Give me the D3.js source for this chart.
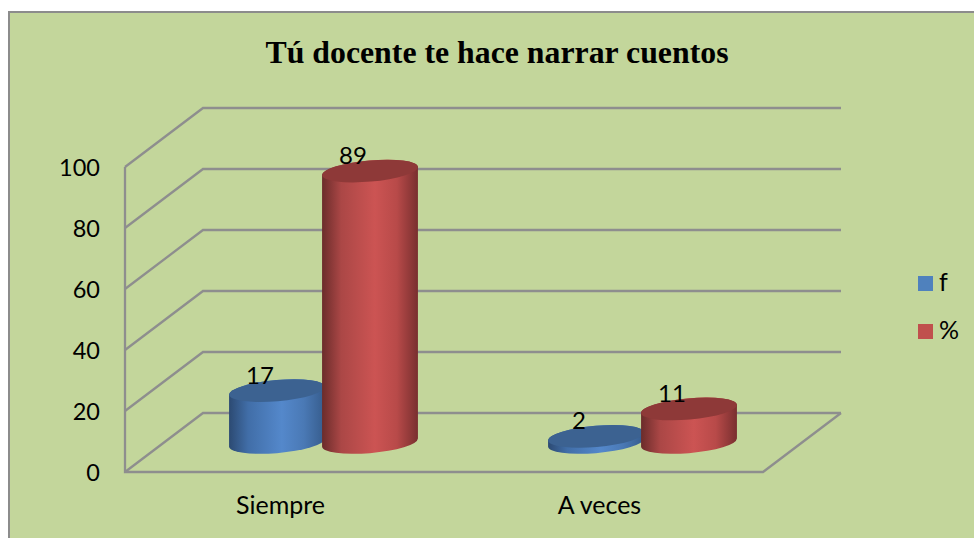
<!DOCTYPE html>
<html><head><meta charset="utf-8">
<script src="https://cdn.jsdelivr.net/npm/d3@7"></script>
<style>html,body{margin:0;padding:0;background:#fff}svg{display:block}</style>
</head><body><div id="chart"></div>
<script>
const titleText = "Tú docente te hace narrar cuentos";
const categories = ["Siempre", "A veces"];
const seriesNames = ["f", "%"];
const fValues = [17, 2];
const pctValues = [89, 11];
const yTicks = [0, 20, 40, 60, 80, 100];
const seriesColors = {
  f: {stops: ["#2c4a72", "#416ea8", "#5488cb", "#4a79b5", "#365c8c"], top: "#3c6291", swatch: "#4f81bd"},
  "%": {stops: ["#6b2c2b", "#ab4746", "#cc5453", "#b84a49", "#792f2f"], top: "#8e3938", swatch: "#c0504d"}
};

const W = 974, H = 538;
const depthX = 78, depthY = -59;
const svg = d3.select("#chart").append("svg").attr("width", W).attr("height", H)
  .style("font-family", "Lato, 'Open Sans', sans-serif");
const defs = svg.append("defs");
seriesNames.forEach((s, si) => {
  const g = defs.append("linearGradient").attr("id", "grad" + si);
  seriesColors[s].stops.forEach((c, i) => g.append("stop").attr("offset", [0, .2, .55, .78, 1][i]).attr("stop-color", c));
});

svg.append("rect").attr("x", 9).attr("y", 12).attr("width", W + 10).attr("height", H + 10)
  .attr("fill", "#c3d69b").attr("stroke", "#8c8c8c").attr("stroke-width", 2);

svg.append("text").attr("x", 497).attr("y", 63).attr("text-anchor", "middle")
  .attr("font-family", "'Liberation Serif', serif").attr("font-weight", "bold").attr("font-size", 31.8)
  .attr("fill", "#000").text(titleText);

const y = d3.scaleLinear().domain([0, 100]).range([472, 167]);
const x0 = d3.scaleBand().domain(categories).range([125, 763]);
const grey = "#8e8e8e";
const grid = svg.append("g").attr("fill", "none").attr("stroke", grey).attr("stroke-width", 2.3);
yTicks.forEach(t => {
  const py = y(t);
  grid.append("path").attr("d", d3.line()([[125, py], [125 + depthX, py + depthY], [841, py + depthY]]));
});
grid.append("path").attr("d", d3.line()([[125, y(100)], [125, y(0)], [763, y(0)], [841, y(0) + depthY]]));

svg.append("g").selectAll("text").data(yTicks).join("text")
  .attr("x", 100).attr("y", d => y(d) + 8.5).attr("text-anchor", "end")
  .attr("font-size", 23.5).attr("fill", "#000").text(d => d);
svg.append("g").selectAll("text").data(categories).join("text")
  .attr("x", d => x0(d) + x0.bandwidth() / 2 - 4).attr("y", 514).attr("text-anchor", "middle")
  .attr("font-size", 25).attr("fill", "#000").text(d => d);

const x1 = d3.scaleBand().domain(seriesNames).range([-93, 93]);
const rx = x1.bandwidth() / 2 + 1.6, ry = 10.6, rot = -5;
const th = rot * Math.PI / 180;
const ext = Math.sqrt(rx * rx * Math.cos(th) ** 2 + ry * ry * Math.sin(th) ** 2);
const tan = (rx * rx - ry * ry) * Math.sin(th) * Math.cos(th) / ext;

function bar(g, cx, base, top, si) {
  const s = seriesColors[seriesNames[si]];
  const xl = cx - ext, xr = cx + ext;
  const d = `M${xl},${top - tan}L${xl},${base - tan}`
    + `A${rx},${ry} ${rot} 0 0 ${xr},${base + tan}`
    + `L${xr},${top + tan}`
    + `A${rx},${ry} ${rot} 0 0 ${xl},${top - tan}Z`;
  g.append("path").attr("d", d).attr("fill", `url(#grad${si})`);
  g.append("ellipse").attr("rx", rx).attr("ry", ry)
    .attr("transform", `translate(${cx},${top}) rotate(${rot})`).attr("fill", s.top);
}
const rows = [fValues, pctValues];
const marks = svg.append("g");
const labels = [];
categories.forEach((c, ci) => {
  const cc = x0(c) + x0.bandwidth() / 2 + depthX / 2;
  seriesNames.forEach((s, si) => {
    const v = rows[si][ci];
    const base = y(0) + depthY / 2, h = y(0) - y(v);
    const cx = cc + x1(s) + x1.bandwidth() / 2;
    bar(marks, cx, base, base - h, si);
    labels.push({x: cx - 17, y: base - h - 7, v});
  });
});
svg.append("g").selectAll("text").data(labels).join("text")
  .attr("x", d => d.x).attr("y", d => d.y).attr("text-anchor", "middle")
  .attr("font-size", 24).attr("fill", "#000").text(d => d.v);

const legend = svg.append("g").selectAll("g").data(seriesNames).join("g")
  .attr("transform", (d, i) => `translate(918,${276 + i * 48})`);
legend.append("rect").attr("width", 15).attr("height", 15).attr("fill", d => seriesColors[d].swatch);
legend.append("text").attr("x", 21).attr("y", 15).attr("font-size", 25).attr("fill", "#000").text(d => d);
</script></body></html>
